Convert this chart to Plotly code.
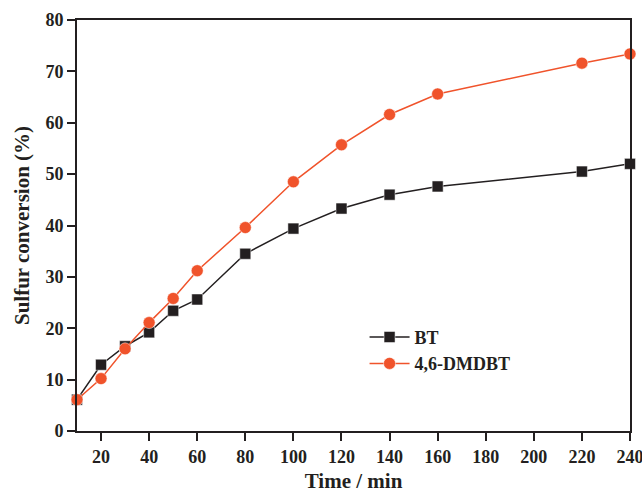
import plotly.graph_objects as go

time_min = [10, 20, 30, 40, 50, 60, 80, 100, 120, 140, 160, 220, 240]
bt = [6.1, 12.9, 16.5, 19.2, 23.4, 25.6, 34.5, 39.4, 43.3, 46.0, 47.6, 50.5, 52.0]
dmdbt = [6.1, 10.2, 16.0, 21.1, 25.8, 31.2, 39.6, 48.5, 55.7, 61.6, 65.6, 71.6, 73.4]
x_ticks = list(range(20, 241, 20))
y_ticks = list(range(0, 81, 10))

BLACK = "#231F20"
ORANGE = "#F0532B"
FONT = "Liberation Serif"

fig = go.Figure()
fig.add_trace(go.Scatter(
    x=time_min, y=bt, mode="lines+markers", name="BT",
    line=dict(color=BLACK, width=1.5),
    marker=dict(symbol="square", size=11, color=BLACK, line=dict(color="white", width=0.5)),
    cliponaxis=False,
))
fig.add_trace(go.Scatter(
    x=time_min, y=dmdbt, mode="lines+markers", name="4,6-DMDBT",
    line=dict(color=ORANGE, width=1.5),
    marker=dict(symbol="circle", size=12, color=ORANGE, line=dict(color="white", width=0.5)),
    cliponaxis=False,
))

axis_common = dict(
    showgrid=False, zeroline=False, showline=True, linecolor=BLACK, linewidth=2,
    mirror=True, ticks="outside", ticklen=8, tickwidth=2, tickcolor=BLACK,
    automargin=False, ticklabeloverflow="allow",
    tickfont=dict(family=FONT, size=18, color=BLACK, weight="bold"),
)

fig.update_xaxes(range=[10, 240], tickvals=x_ticks,
                 title=dict(text="Time / min", font=dict(family=FONT, size=21, color=BLACK, weight="bold"), standoff=8),
                 **axis_common)
fig.update_yaxes(range=[0, 80], tickvals=y_ticks,
                 title=dict(text="Sulfur conversion (%)", font=dict(family=FONT, size=21, color=BLACK, weight="bold"), standoff=10),
                 **axis_common)

fig.update_layout(
    template="none",
    width=642, height=493,
    margin=dict(l=77, r=12, t=20, b=62),
    plot_bgcolor="white", paper_bgcolor="white",
    legend=dict(x=0.52, y=0.273, xanchor="left", yanchor="top",
                font=dict(family=FONT, size=18, color=BLACK, weight="bold"),
                bgcolor="rgba(0,0,0,0)", tracegroupgap=0, itemwidth=40),
    showlegend=True,
)

fig.write_html("out.html")
